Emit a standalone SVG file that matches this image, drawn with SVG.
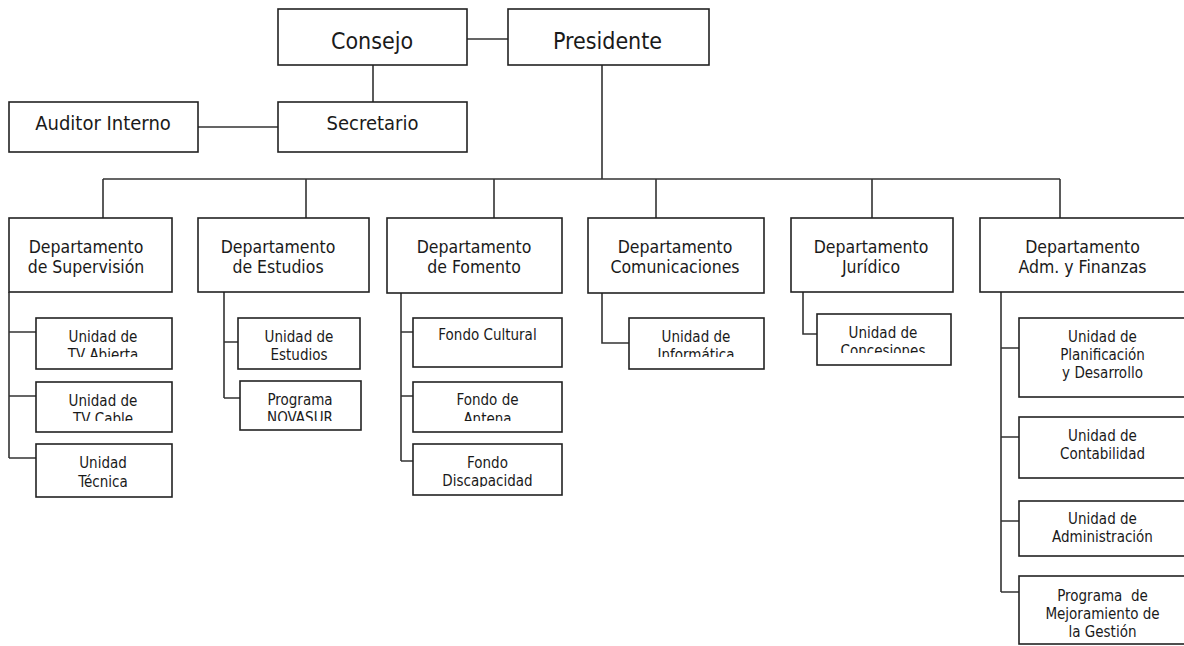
<svg xmlns="http://www.w3.org/2000/svg" width="1184" height="646" viewBox="0 0 1184 646">
<style>
.b{fill:#fff;stroke:#222;stroke-width:1.6}
.c{fill:none;stroke:#333;stroke-width:1.6}
text{font-family:"DejaVu Sans Condensed","DejaVu Sans",sans-serif;fill:#1a1a1a;text-anchor:middle;white-space:pre}
.t1{font-size:23px}
.t2{font-size:20px}
.t3{font-size:17.5px}
.t4{font-size:15px}
</style>
<defs>
<clipPath id="k1" clipPathUnits="userSpaceOnUse"><rect x="0" y="0" width="1184" height="357"/></clipPath>
<clipPath id="k2" clipPathUnits="userSpaceOnUse"><rect x="0" y="0" width="1184" height="421"/></clipPath>
<clipPath id="k3" clipPathUnits="userSpaceOnUse"><rect x="0" y="0" width="1184" height="487"/></clipPath>
<clipPath id="k4" clipPathUnits="userSpaceOnUse"><rect x="0" y="0" width="1184" height="353"/></clipPath>
</defs>
<rect width="1184" height="646" fill="#fff"/>
<g id="connectors">
<path class="c" d="M467 39H508M373 65V102M198 127H278M602 65V179M103 179H1060M103 179V218M306 179V218M494 179V218M656 179V218M872 179V218M1060 179V218"/>
<path class="c" d="M9 292V458M9 332H36M9 396H36M9 458H36"/>
<path class="c" d="M224 292V398M224 342H238M224 398H240"/>
<path class="c" d="M401 293V461M401 332H413M401 396H413M401 461H413"/>
<path class="c" d="M602 293V343H629"/>
<path class="c" d="M803 292V334H817"/>
<path class="c" d="M1001 292V592M1001 348H1019M1001 437H1019M1001 521H1019M1001 592H1019"/>
</g>
<g id="consejo"><rect class="b" x="278" y="9" width="189" height="56"/><text class="t1" x="372" y="49">Consejo</text></g>
<g id="presidente"><rect class="b" x="508" y="9" width="201" height="56"/><text class="t1" x="607.5" y="49">Presidente</text></g>
<g id="auditor"><rect class="b" x="9" y="102" width="189" height="50"/><text class="t2" x="103" y="130">Auditor Interno</text></g>
<g id="secretario"><rect class="b" x="278" y="102" width="189" height="50"/><text class="t2" x="372.5" y="130">Secretario</text></g>

<g id="dep-supervision"><rect class="b" x="9" y="218" width="163" height="74"/><text class="t3" x="86" y="253">Departamento</text><text class="t3" x="86" y="273">de Supervisión</text></g>
<g id="dep-estudios"><rect class="b" x="198" y="218" width="171" height="74"/><text class="t3" x="278" y="253">Departamento</text><text class="t3" x="278" y="273">de Estudios</text></g>
<g id="dep-fomento"><rect class="b" x="387" y="218" width="175" height="75"/><text class="t3" x="474" y="253">Departamento</text><text class="t3" x="474" y="273">de Fomento</text></g>
<g id="dep-comunicaciones"><rect class="b" x="588" y="218" width="176" height="75"/><text class="t3" x="675" y="253">Departamento</text><text class="t3" x="675" y="273">Comunicaciones</text></g>
<g id="dep-juridico"><rect class="b" x="791" y="218" width="162" height="74"/><text class="t3" x="871" y="253">Departamento</text><text class="t3" x="871" y="273">Jurídico</text></g>
<g id="dep-adm"><rect class="b" x="980" y="218" width="208" height="74"/><text class="t3" x="1082.5" y="253">Departamento</text><text class="t3" x="1082.5" y="273">Adm. y Finanzas</text></g>

<g id="u-tvabierta"><rect class="b" x="36" y="318" width="136" height="51"/><g clip-path="url(#k1)"><text class="t4" x="103" y="342">Unidad de</text><text class="t4" x="103" y="360">TV Abierta</text></g></g>
<g id="u-tvcable"><rect class="b" x="36" y="382" width="136" height="50"/><g clip-path="url(#k2)"><text class="t4" x="103" y="406">Unidad de</text><text class="t4" x="103" y="424">TV Cable</text></g></g>
<g id="u-tecnica"><rect class="b" x="36" y="444" width="136" height="53"/><text class="t4" x="103" y="468">Unidad</text><text class="t4" x="103" y="487">Técnica</text></g>

<g id="u-estudios"><rect class="b" x="238" y="318" width="122" height="51"/><text class="t4" x="299" y="342">Unidad de</text><text class="t4" x="299" y="360">Estudios</text></g>
<g id="p-novasur"><rect class="b" x="240" y="381" width="121" height="49"/><g clip-path="url(#k2)"><text class="t4" x="300" y="405">Programa</text><text class="t4" x="300" y="423">NOVASUR</text></g></g>

<g id="f-cultural"><rect class="b" x="413" y="318" width="149" height="49"/><text class="t4" x="487.5" y="340">Fondo Cultural</text></g>
<g id="f-antena"><rect class="b" x="413" y="382" width="149" height="50"/><g clip-path="url(#k2)"><text class="t4" x="487.5" y="405">Fondo de</text><text class="t4" x="487.5" y="424">Antena</text></g></g>
<g id="f-discapacidad"><rect class="b" x="413" y="444" width="149" height="51"/><g clip-path="url(#k3)"><text class="t4" x="487.5" y="468">Fondo</text><text class="t4" x="487.5" y="486">Discapacidad</text></g></g>

<g id="u-informatica"><rect class="b" x="629" y="318" width="135" height="51"/><g clip-path="url(#k1)"><text class="t4" x="696" y="342">Unidad de</text><text class="t4" x="696" y="360">Informática</text></g></g>

<g id="u-concesiones"><rect class="b" x="817" y="314" width="134" height="51"/><g clip-path="url(#k4)"><text class="t4" x="883" y="338">Unidad de</text><text class="t4" x="883" y="356">Concesiones</text></g></g>

<g id="u-planificacion"><rect class="b" x="1019" y="318" width="169" height="79"/><text class="t4" x="1102.5" y="342">Unidad de</text><text class="t4" x="1102.5" y="360">Planificación</text><text class="t4" x="1102.5" y="378">y Desarrollo</text></g>
<g id="u-contabilidad"><rect class="b" x="1019" y="417" width="169" height="61"/><text class="t4" x="1102.5" y="441">Unidad de</text><text class="t4" x="1102.5" y="459">Contabilidad</text></g>
<g id="u-administracion"><rect class="b" x="1019" y="501" width="169" height="55"/><text class="t4" x="1102.5" y="524">Unidad de</text><text class="t4" x="1102.5" y="542">Administración</text></g>
<g id="p-mejoramiento"><rect class="b" x="1019" y="576" width="169" height="68"/><text class="t4" x="1102.5" y="601">Programa  de</text><text class="t4" x="1102.5" y="619">Mejoramiento de</text><text class="t4" x="1102.5" y="637">la Gestión</text></g>
</svg>
